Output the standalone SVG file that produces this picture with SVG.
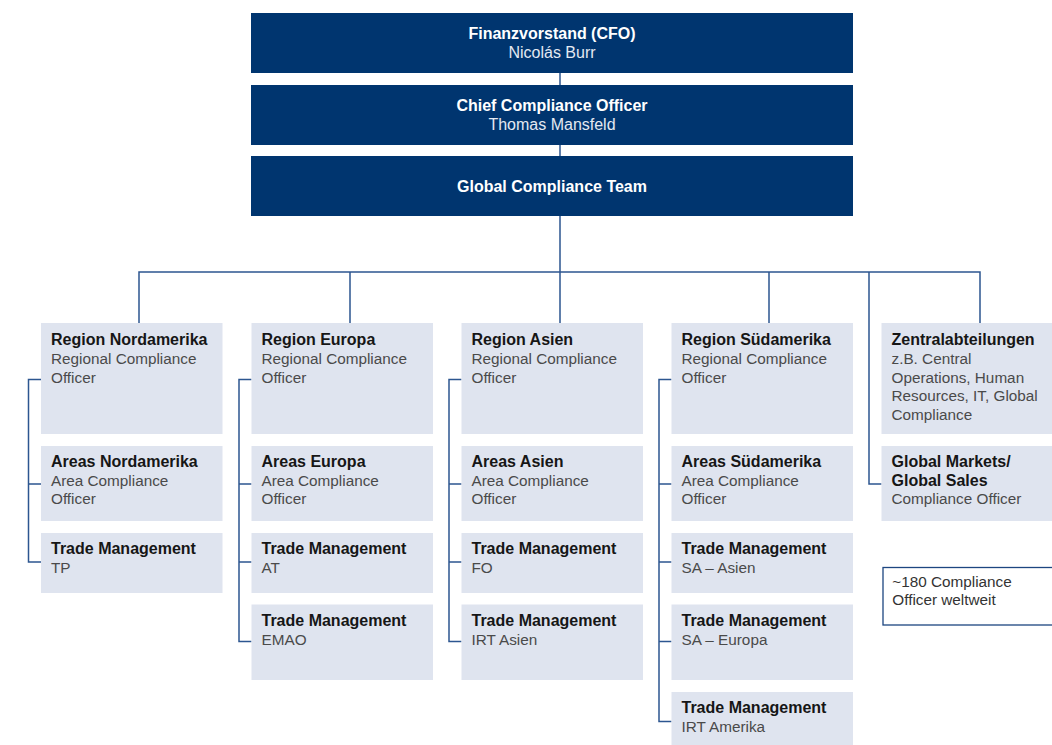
<svg xmlns="http://www.w3.org/2000/svg" width="1052" height="745" viewBox="0 0 1052 745">
<style>
.top{fill:#00356f}
.box{fill:#dfe4ef}
.tb{font-family:"Liberation Sans",Arial,sans-serif;font-size:16px;font-weight:bold;fill:#ffffff;text-anchor:middle}
.tr{font-family:"Liberation Sans",Arial,sans-serif;font-size:16px;fill:#e4e9f2;text-anchor:middle}
.b{font-family:"Liberation Sans",Arial,sans-serif;font-size:16px;font-weight:bold;fill:#161616}
.r{font-family:"Liberation Sans",Arial,sans-serif;font-size:15.3px;fill:#4a4a4a}
.n{font-family:"Liberation Sans",Arial,sans-serif;font-size:15.3px;fill:#333333}
.ln{fill:none;stroke:#2c5690;stroke-width:1.5}
</style>
<rect width="1052" height="745" fill="#ffffff"/>
<g id="connectors" class="ln">
<path d="M560 73V85M560 145V156M560 216V272"/>
<path d="M139 323V272H980V323M350 272V323M560 272V323M769 272V323"/>
<path d="M869 272V484H881.5"/>
<path d="M41 379.5H28.5V562H41M28.5 484H41"/>
<path d="M251.5 379.5H239V641.5H251.5M239 484H251.5M239 562H251.5"/>
<path d="M461.5 379.5H449V641.5H461.5M449 484H461.5M449 562H461.5"/>
<path d="M671.5 379.5H659V721.5H671.5M659 484H671.5M659 562H671.5M659 641.5H671.5"/>
</g>
<g id="cfo"><rect class="top" x="251" y="13" width="602" height="60"/><text class="tb" x="552" y="39.3">Finanzvorstand (CFO)</text><text class="tr" x="552" y="57.7">Nicolás Burr</text></g>
<g id="cco"><rect class="top" x="251" y="85" width="602" height="60"/><text class="tb" x="552" y="111">Chief Compliance Officer</text><text class="tr" x="552" y="129.7">Thomas Mansfeld</text></g>
<g id="gct"><rect class="top" x="251" y="156" width="602" height="60"/><text class="tb" x="552" y="191.7">Global Compliance Team</text></g>

<g id="region-nordamerika"><rect class="box" x="41" y="323" width="181.5" height="111"/><text class="b" x="51" y="345">Region Nordamerika</text><text class="r" x="51" y="364">Regional Compliance</text><text class="r" x="51" y="382.7">Officer</text></g>
<g id="areas-nordamerika"><rect class="box" x="41" y="446" width="181.5" height="75"/><text class="b" x="51" y="466.7">Areas Nordamerika</text><text class="r" x="51" y="485.7">Area Compliance</text><text class="r" x="51" y="504.3">Officer</text></g>
<g id="tm-tp"><rect class="box" x="41" y="533" width="181.5" height="60"/><text class="b" x="51" y="554">Trade Management</text><text class="r" x="51" y="572.7">TP</text></g>

<g id="region-europa"><rect class="box" x="251.5" y="323" width="181.5" height="111"/><text class="b" x="261.5" y="345">Region Europa</text><text class="r" x="261.5" y="364">Regional Compliance</text><text class="r" x="261.5" y="382.7">Officer</text></g>
<g id="areas-europa"><rect class="box" x="251.5" y="446" width="181.5" height="75"/><text class="b" x="261.5" y="466.7">Areas Europa</text><text class="r" x="261.5" y="485.7">Area Compliance</text><text class="r" x="261.5" y="504.3">Officer</text></g>
<g id="tm-at"><rect class="box" x="251.5" y="533" width="181.5" height="60"/><text class="b" x="261.5" y="554">Trade Management</text><text class="r" x="261.5" y="572.7">AT</text></g>
<g id="tm-emao"><rect class="box" x="251.5" y="604.5" width="181.5" height="75.5"/><text class="b" x="261.5" y="625.7">Trade Management</text><text class="r" x="261.5" y="645">EMAO</text></g>

<g id="region-asien"><rect class="box" x="461.5" y="323" width="181.5" height="111"/><text class="b" x="471.5" y="345">Region Asien</text><text class="r" x="471.5" y="364">Regional Compliance</text><text class="r" x="471.5" y="382.7">Officer</text></g>
<g id="areas-asien"><rect class="box" x="461.5" y="446" width="181.5" height="75"/><text class="b" x="471.5" y="466.7">Areas Asien</text><text class="r" x="471.5" y="485.7">Area Compliance</text><text class="r" x="471.5" y="504.3">Officer</text></g>
<g id="tm-fo"><rect class="box" x="461.5" y="533" width="181.5" height="60"/><text class="b" x="471.5" y="554">Trade Management</text><text class="r" x="471.5" y="572.7">FO</text></g>
<g id="tm-irt-asien"><rect class="box" x="461.5" y="604.5" width="181.5" height="75.5"/><text class="b" x="471.5" y="625.7">Trade Management</text><text class="r" x="471.5" y="645">IRT Asien</text></g>

<g id="region-suedamerika"><rect class="box" x="671.5" y="323" width="181.5" height="111"/><text class="b" x="681.5" y="345">Region Südamerika</text><text class="r" x="681.5" y="364">Regional Compliance</text><text class="r" x="681.5" y="382.7">Officer</text></g>
<g id="areas-suedamerika"><rect class="box" x="671.5" y="446" width="181.5" height="75"/><text class="b" x="681.5" y="466.7">Areas Südamerika</text><text class="r" x="681.5" y="485.7">Area Compliance</text><text class="r" x="681.5" y="504.3">Officer</text></g>
<g id="tm-sa-asien"><rect class="box" x="671.5" y="533" width="181.5" height="60"/><text class="b" x="681.5" y="554">Trade Management</text><text class="r" x="681.5" y="572.7">SA – Asien</text></g>
<g id="tm-sa-europa"><rect class="box" x="671.5" y="604.5" width="181.5" height="75.5"/><text class="b" x="681.5" y="625.7">Trade Management</text><text class="r" x="681.5" y="645">SA – Europa</text></g>
<g id="tm-irt-amerika"><rect class="box" x="671.5" y="692" width="181.5" height="60"/><text class="b" x="681.5" y="712.7">Trade Management</text><text class="r" x="681.5" y="731.7">IRT Amerika</text></g>

<g id="zentralabteilungen"><rect class="box" x="881.5" y="323" width="180" height="111"/><text class="b" x="891.5" y="345">Zentralabteilungen</text><text class="r" x="891.5" y="364">z.B. Central</text><text class="r" x="891.5" y="382.7">Operations, Human</text><text class="r" x="891.5" y="401.3">Resources, IT, Global</text><text class="r" x="891.5" y="420">Compliance</text></g>
<g id="global-markets"><rect class="box" x="881.5" y="446" width="180" height="75"/><text class="b" x="891.5" y="466.7">Global Markets/</text><text class="b" x="891.5" y="485.7">Global Sales</text><text class="r" x="891.5" y="504.3">Compliance Officer</text></g>

<g id="note"><rect x="883" y="567.5" width="180" height="57.5" fill="#ffffff" stroke="#1d4680" stroke-width="1.3"/><text class="n" x="892.3" y="586.7">~180 Compliance</text><text class="n" x="892.3" y="605.3">Officer weltweit</text></g>
</svg>
